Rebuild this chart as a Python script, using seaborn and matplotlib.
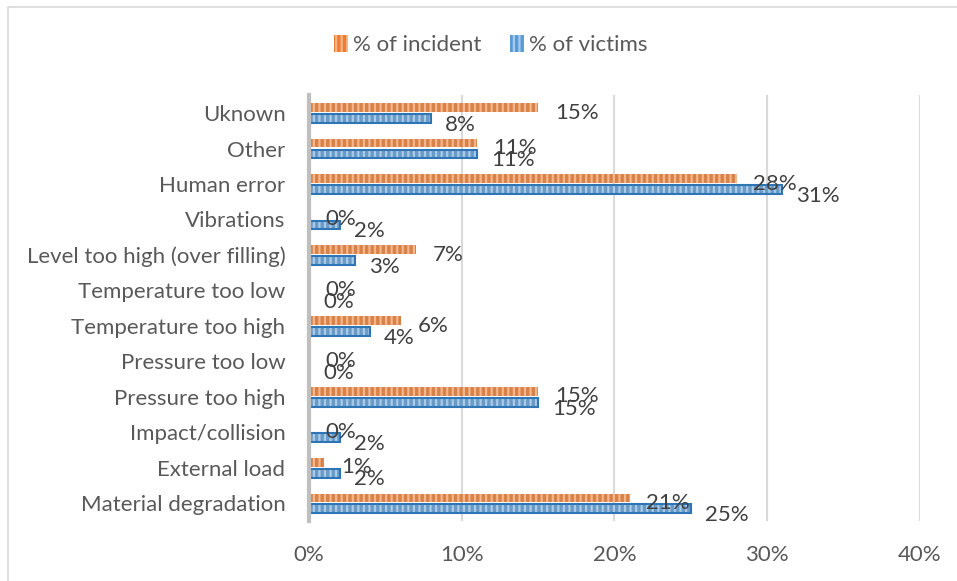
import matplotlib
matplotlib.use("Agg")
import matplotlib.pyplot as plt
import matplotlib.patches as mpatches
import seaborn as sns
import pandas as pd

categories = ["Uknown", "Other", "Human error", "Vibrations",
              "Level too high (over filling)", "Temperature too low",
              "Temperature too high", "Pressure too low", "Pressure too high",
              "Impact/collision", "External load", "Material degradation"]
incident = [15, 11, 28, 0, 7, 0, 6, 0, 15, 0, 1, 21]
victims = [8, 11, 31, 2, 3, 0, 4, 0, 15, 2, 2, 25]
series = ["% of incident", "% of victims"]
xticks = [0, 10, 20, 30, 40]

rows = []
for c, a, b in zip(categories, incident, victims):
    rows.append({"cat": c, "series": series[0], "val": a})
    rows.append({"cat": c, "series": series[1], "val": b})
df = pd.DataFrame(rows)

sns.set_theme(style="white")
plt.rcParams["font.family"] = ["Lato", "DejaVu Sans"]
plt.rcParams["hatch.linewidth"] = 1.6
text_color = "#595959"
fs = 16

fig = plt.figure(figsize=(9.57, 5.81), dpi=100)
ax = fig.add_axes([0.323, 0.103, 0.638, 0.733])

orange = "#ED7D31"
orange_l = "#F6B58A"
blue = "#5B9BD5"
blue_l = "#A9CBEA"
blue_d = "#2E75B6"

sns.barplot(data=df, y="cat", x="val", hue="series", order=categories,
            hue_order=series, palette=[orange, blue], orient="h",
            width=0.6, gap=0.2, ax=ax, legend=False)

bars_inc = ax.containers[0]
bars_vic = ax.containers[1]
for p in bars_inc:
    p.set_hatch("|||")
    p.set_edgecolor(orange_l)
    p.set_linewidth(0)
for p in bars_vic:
    p.set_hatch("|||")
    p.set_edgecolor(blue_l)
    p.set_linewidth(0)
    if p.get_width() > 0:
        ax.add_patch(mpatches.Rectangle(p.get_xy(), p.get_width(), p.get_height(),
                                        facecolor="none", edgecolor=blue_d,
                                        linewidth=1.5, zorder=p.get_zorder() + 0.1))

for p, v in zip(bars_inc, incident):
    yc = p.get_y() + p.get_height() / 2
    ax.annotate(f"{v}%", (v, yc), xytext=(12, -3.5), textcoords="offset points",
                ha="left", va="center", fontsize=fs, color="#404040")
for p, v in zip(bars_vic, victims):
    yc = p.get_y() + p.get_height() / 2
    ax.annotate(f"{v}%", (v, yc), xytext=(10, -4.5), textcoords="offset points",
                ha="left", va="center", fontsize=fs, color="#404040")

ax.set_xlim(0, 40)
ax.set_xticks(xticks)
ax.set_xticklabels([f"{t}%" for t in xticks], fontsize=fs, color=text_color)
ax.tick_params(axis="y", labelsize=fs, labelcolor=text_color, length=0, pad=17)
ax.tick_params(axis="x", length=0, pad=17)
ax.set_xlabel("")
ax.set_ylabel("")
ax.xaxis.grid(True, color="#D9D9D9", linewidth=1.5)
ax.set_axisbelow(True)
for s in ["top", "right", "bottom"]:
    ax.spines[s].set_visible(False)
ax.spines["left"].set_color("#BFBFBF")
ax.spines["left"].set_linewidth(3)
ax.spines["left"].set_zorder(5)

h1 = mpatches.Patch(facecolor=orange, edgecolor=orange_l, hatch="|||", linewidth=0)
h2 = mpatches.Patch(facecolor=blue, edgecolor=blue_l, hatch="|||", linewidth=0)
leg = fig.legend([h1, h2], series, loc="center", bbox_to_anchor=(0.513, 0.922),
                 ncol=2, frameon=False, fontsize=fs, handlelength=0.6,
                 handleheight=0.8, handletextpad=0.25, columnspacing=1.3)
for t in leg.get_texts():
    t.set_color(text_color)

fig.add_artist(mpatches.Rectangle((8 / 957, -0.1), 1.2, 1 - 7 / 581 + 0.1,
                                  transform=fig.transFigure, facecolor="none",
                                  edgecolor="#D9D9D9", linewidth=1.2))

fig.savefig("out.png", dpi=100)
